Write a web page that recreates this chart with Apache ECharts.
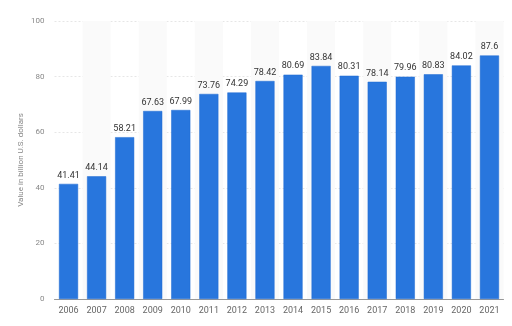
<!DOCTYPE html>
<html><head><meta charset="utf-8">
<script src="https://cdn.jsdelivr.net/npm/echarts@6/dist/echarts.min.js"></script>
<style>html,body{margin:0;padding:0;background:#fff}#c{width:512px;height:326px}</style>
</head><body><div id="c"></div>
<script>
const years = ['2006','2007','2008','2009','2010','2011','2012','2013','2014','2015','2016','2017','2018','2019','2020','2021'];
const values = [41.41,44.14,58.21,67.63,67.99,73.76,74.29,78.42,80.69,83.84,80.31,78.14,79.96,80.83,84.02,87.6];
const yTitle = 'Value in billion U.S. dollars';

const chart = echarts.init(document.getElementById('c'), null, {renderer:'canvas'});
chart.setOption({
  animation:false,
  grid:{left:54.5, right:8.5, top:21, bottom:27},
  xAxis:{
    type:'category', data:years,
    axisLine:{lineStyle:{color:'#999', width:1}},
    axisTick:{show:false},
    axisLabel:{color:'#666', fontSize:9, fontFamily:'Roboto', margin:7},
    splitArea:{show:true, areaStyle:{color:['rgba(255,255,255,0)','#fafafa']}}
  },
  yAxis:{
    type:'value', min:0, max:100, interval:20,
    name:yTitle, nameLocation:'middle', nameGap:30, nameRotate:90, nameMoveOverlap:false,
    nameTextStyle:{color:'#888', fontSize:8, fontFamily:'Roboto'},
    axisLine:{show:false}, axisTick:{show:false},
    axisLabel:{color:'#888', fontSize:8, fontFamily:'Roboto', margin:10},
    splitLine:{lineStyle:{color:'#e6e6e6', type:[2,2], width:1}}
  },
  series:[{
    type:'bar', data:values, barWidth:'68%',
    itemStyle:{color:'#2876dd', borderColor:'#1f6ad3', borderWidth:0.5},
    label:{show:true, position:'top', color:'#333', fontSize:9, fontFamily:'Roboto', distance:4}
  }]
});
</script></body></html>
